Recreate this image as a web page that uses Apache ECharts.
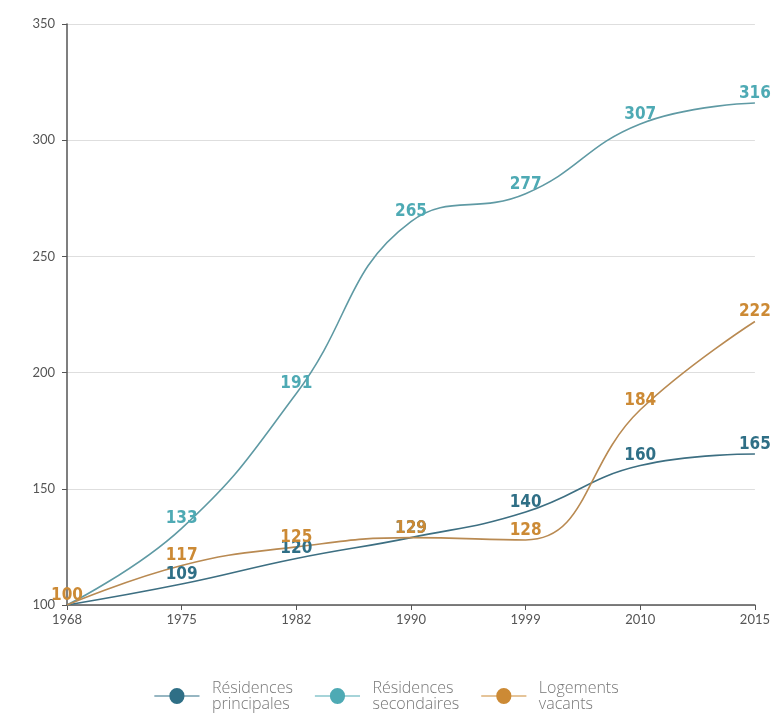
<!DOCTYPE html>
<html><head><meta charset="utf-8">
<script src="https://cdn.jsdelivr.net/npm/echarts@6/dist/echarts.min.js"></script>
<style>html,body{margin:0;padding:0;background:#fff}#c{width:773px;height:723px}</style>
</head><body><div id="c"></div>
<script>
const years = ['1968','1975','1982','1990','1999','2010','2015'];
const yTicks = [100,150,200,250,300,350];
const principales = [100,109,120,129,140,160,165];
const secondaires = [100,133,191,265,277,307,316];
const vacants = [100,117,125,129,128,184,222];
const names = ['Résidences\nprincipales','Résidences\nsecondaires','Logements\nvacants'];
const colors = ['#2f6f86','#4eaab4','#cc8a35'];

const chart = echarts.init(document.getElementById('c'));
function mk(name, data, color, lineColor, showFirst){
  return {
    name: name, type:'line', data: data, smooth: 0.45,
    symbol:'circle', symbolSize: 0.01, showSymbol: true,
    itemStyle:{color: color},
    lineStyle:{color: lineColor, width: 1.6},
    labelLayout:{hideOverlap:false},
    label:{show:true, position:'top', distance:1, color: color,
      fontFamily:'"Liberation Sans Narrow","DejaVu Sans Condensed",Roboto,sans-serif',
      fontWeight:'bold', fontSize:17,
      formatter: p => (p.dataIndex===0 && !showFirst) ? '' : String(p.value)},
    z: 2
  };
}
chart.setOption({
  animation:false,
  grid:{left:67,right:18,top:24,bottom:118,containLabel:false},
  legend:{
    bottom:6, left:'center', itemWidth:48, itemHeight:16, itemGap:22,
    icon:'path://M0,7.5 L16,7.5 A8,8 0 1 1 32,7.5 L48,7.5 L48,8.5 L32,8.5 A8,8 0 1 1 16,8.5 L0,8.5 Z',
    textStyle:{color:'#777', fontSize:16, lineHeight:16, padding:[0,0,0,6], fontWeight:300, fontFamily:'"Open Sans",Lato,sans-serif'},
    data: names
  },
  xAxis:{type:'category', data: years, boundaryGap:false,
    axisLine:{lineStyle:{color:'#555', width:1.5}},
    axisTick:{show:true, length:5, lineStyle:{color:'#555'}},
    axisLabel:{color:'#555', fontSize:13, margin:8, fontFamily:'"Liberation Sans Narrow",Lato,sans-serif'},
    splitLine:{show:false}},
  yAxis:{type:'value', min:yTicks[0], max:yTicks[yTicks.length-1], interval:50,
    axisLine:{show:true, lineStyle:{color:'#555', width:1.5}},
    axisTick:{show:true, inside:false, length:5, lineStyle:{color:'#555'}},
    axisLabel:{color:'#555', fontSize:13, margin:12, fontFamily:'"Liberation Sans Narrow",Lato,sans-serif'},
    splitLine:{show:true, lineStyle:{color:'#dedede', width:1}}},
  series:[
    mk(names[0], principales, colors[0], '#3d6f82', false),
    mk(names[1], secondaires, colors[1], '#5f9aa4', false),
    mk(names[2], vacants, colors[2], '#b98a52', true)
  ]
});
</script></body></html>
